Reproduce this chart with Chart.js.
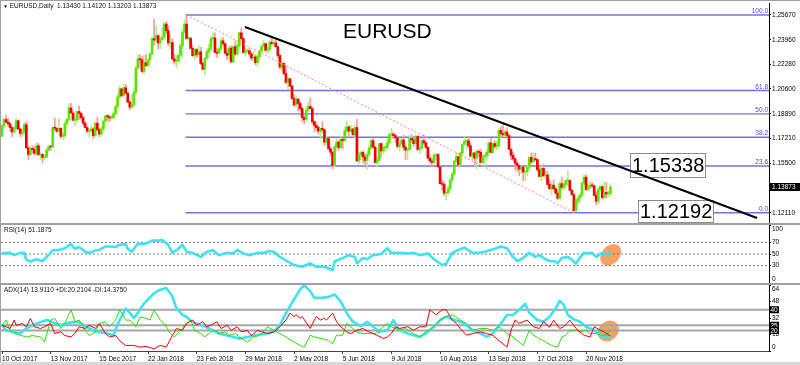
<!DOCTYPE html>
<html>
<head>
<meta charset="utf-8">
<script src="https://cdn.jsdelivr.net/npm/chart.js@4.4.1/dist/chart.umd.min.js"></script>
<style>
html,body{margin:0;padding:0;background:#fff;}
#wrap{position:relative;width:800px;height:365px;overflow:hidden;background:#fff;font-family:"Liberation Sans",Arial,sans-serif;color:#000;}
#wrap canvas{position:absolute;left:0;}
.t{position:absolute;white-space:nowrap;font-size:6.5px;line-height:1;color:#111;}
.big{position:absolute;white-space:nowrap;font-size:21px;line-height:1;color:#000;}
.hl{position:absolute;background:#a0a0a0;}
</style>
</head>
<body>
<div id="wrap">
<canvas id="cMain" width="800" height="223" style="top:0px"></canvas>
<canvas id="cRsi" width="800" height="58" style="top:225px"></canvas>
<canvas id="cAdx" width="800" height="80" style="top:285px"></canvas>
<div class="hl" style="left:0;top:0;width:800px;height:1px"></div>
<div class="hl" style="left:0;top:0;width:1px;height:362px"></div>
<div class="hl" style="left:0;top:223px;width:800px;height:2px"></div>
<div class="hl" style="left:0;top:283px;width:800px;height:2px"></div>
<div class="hl" style="left:0;top:362px;width:800px;height:3px;background:#d8d8d8"></div>
<div class="t" style="left:3px;top:3px"><span style="font-size:5px">▼</span>&nbsp;EURUSD,Daily&nbsp;&nbsp;1.13430 1.14120 1.13203 1.13873</div>
<div class="t" style="left:4px;top:227px">RSI(14) 51.1875</div>
<div class="t" style="left:4px;top:287px">ADX(14) 13.9110 +DI:20.2104 -DI:14.3750</div>
<div class="big" style="left:343px;top:20px">EURUSD</div>
</div>
<script>
// ---------- data ----------
const opens = [
1.1735,1.1807,1.1850,1.1832,1.1820,1.1795,1.1765,1.1788,1.1842,1.1785,
1.1755,1.1763,1.1815,1.1655,1.1610,1.1650,1.1645,1.1618,1.1670,1.1608,
1.1610,1.1590,1.1592,1.1640,1.1665,1.1662,1.1795,1.1790,1.1770,1.1790,
1.1735,1.1738,1.1820,1.1850,1.1930,1.1895,1.1845,1.1848,1.1905,1.1892,
1.1863,1.1825,1.1795,1.1770,1.1772,1.1785,1.1740,1.1825,1.1780,1.1750,
1.1785,1.1840,1.1875,1.1870,1.1860,1.1862,1.1890,1.1940,1.2005,1.2060,
1.2015,1.2068,1.2030,1.1970,1.1935,1.1950,1.2035,1.2200,1.2265,1.2260,
1.2180,1.2240,1.2220,1.2260,1.2300,1.2405,1.2395,1.2425,1.2375,1.2400,
1.2415,1.2505,1.2460,1.2375,1.2378,1.2265,1.2250,1.2252,1.2290,1.2355,
1.2450,1.2505,1.2405,1.2408,1.2338,1.2288,1.2330,1.2295,1.2315,1.2235,
1.2195,1.2270,1.2315,1.2335,1.2405,1.2410,1.2310,1.2305,1.2335,1.2390,
1.2370,1.2305,1.2290,1.2340,1.2245,1.2350,1.2300,1.2355,1.2445,1.2405,
1.2310,1.2320,1.2322,1.2300,1.2270,1.2280,1.2240,1.2280,1.2320,1.2355,
1.2370,1.2325,1.2330,1.2380,1.2370,1.2375,1.2350,1.2290,1.2210,1.2235,
1.2165,1.2105,1.2130,1.2080,1.1995,1.1950,1.1990,1.1960,1.1925,1.1865,
1.1850,1.1915,1.1940,1.1925,1.1835,1.1810,1.1795,1.1770,1.1790,1.1780,
1.1695,1.1720,1.1650,1.1625,1.1535,1.1665,1.1695,1.1658,1.1715,1.1705,
1.1775,1.1800,1.1770,1.1785,1.1745,1.1795,1.1565,1.1610,1.1625,1.1595,
1.1570,1.1610,1.1655,1.1705,1.1660,1.1555,1.1570,1.1685,1.1635,1.1655,
1.1658,1.1690,1.1745,1.1750,1.1740,1.1725,1.1665,1.1685,1.1710,1.1660,
1.1640,1.1645,1.1720,1.1710,1.1685,1.1735,1.1645,1.1655,1.1705,1.1690,
1.1660,1.1585,1.1565,1.1555,1.1605,1.1610,1.1525,1.1410,1.1405,1.1345,
1.1348,1.1375,1.1435,1.1475,1.1565,1.1595,1.1540,1.1620,1.1680,1.1700,
1.1705,1.1670,1.1600,1.1620,1.1585,1.1630,1.1625,1.1555,1.1595,1.1600,
1.1625,1.1690,1.1625,1.1685,1.1665,1.1670,1.1775,1.1755,1.1745,1.1765,
1.1740,1.1645,1.1605,1.1580,1.1550,1.1535,1.1510,1.1525,1.1490,1.1492,
1.1525,1.1590,1.1560,1.1580,1.1575,1.1505,1.1460,1.1515,1.1465,1.1470,
1.1405,1.1375,1.1400,1.1375,1.1345,1.1310,1.1410,1.1385,1.1405,1.1430,
1.1432,1.1365,1.1335,1.1225,1.1290,1.1310,1.1330,1.1415,1.1455,1.1370,
1.1385,1.1400,1.1395,1.1330,1.1290,1.1370,1.1390,1.1315,1.1350,1.1340,1.1343];
const highs = [
1.1815,1.1860,1.1880,1.1860,1.1832,1.1800,1.1805,1.1860,1.1845,1.1790,
1.1790,1.1830,1.1835,1.1665,1.1667,1.1670,1.1665,1.1688,1.1686,1.1615,
1.1615,1.1605,1.1655,1.1670,1.1672,1.1800,1.1860,1.1795,1.1860,1.1795,
1.1755,1.1840,1.1855,1.1960,1.1961,1.1910,1.1880,1.1905,1.1940,1.1900,
1.1875,1.1835,1.1800,1.1785,1.1805,1.1795,1.1830,1.1865,1.1790,1.1800,
1.1845,1.1880,1.1885,1.1875,1.1880,1.1898,1.1950,1.2025,1.2080,1.2065,
1.2090,1.2090,1.2035,1.1978,1.2020,1.2060,1.2218,1.2295,1.2296,1.2282,
1.2290,1.2295,1.2265,1.2310,1.2415,1.2537,1.2495,1.2435,1.2415,1.2480,
1.2520,1.2520,1.2495,1.2430,1.2405,1.2295,1.2290,1.2300,1.2375,1.2470,
1.2530,1.2565,1.2425,1.2410,1.2360,1.2340,1.2335,1.2355,1.2345,1.2245,
1.2275,1.2335,1.2365,1.2420,1.2445,1.2445,1.2335,1.2345,1.2410,1.2412,
1.2375,1.2335,1.2355,1.2355,1.2355,1.2390,1.2375,1.2450,1.2476,1.2415,
1.2340,1.2335,1.2340,1.2310,1.2320,1.2295,1.2295,1.2330,1.2355,1.2395,
1.2375,1.2345,1.2395,1.2414,1.2395,1.2395,1.2355,1.2295,1.2250,1.2240,
1.2210,1.2130,1.2135,1.2085,1.2020,1.2015,1.1995,1.1975,1.1935,1.1875,
1.1935,1.1970,1.1995,1.1935,1.1840,1.1830,1.1805,1.1790,1.1835,1.1785,
1.1735,1.1725,1.1665,1.1630,1.1670,1.1720,1.1705,1.1730,1.1720,1.1800,
1.1840,1.1805,1.1810,1.1790,1.1810,1.1852,1.1625,1.1635,1.1635,1.1610,
1.1630,1.1675,1.1715,1.1720,1.1665,1.1595,1.1690,1.1690,1.1665,1.1670,
1.1720,1.1755,1.1790,1.1765,1.1750,1.1730,1.1690,1.1720,1.1745,1.1670,
1.1650,1.1745,1.1745,1.1730,1.1745,1.1740,1.1665,1.1720,1.1745,1.1700,
1.1665,1.1605,1.1580,1.1620,1.1615,1.1615,1.1530,1.1435,1.1425,1.1355,
1.1395,1.1445,1.1490,1.1570,1.1625,1.1600,1.1625,1.1685,1.1735,1.1715,
1.1735,1.1690,1.1625,1.1625,1.1640,1.1645,1.1645,1.1610,1.1610,1.1640,
1.1690,1.1720,1.1690,1.1705,1.1700,1.1790,1.1800,1.1815,1.1780,1.1795,
1.1750,1.1650,1.1625,1.1590,1.1565,1.1540,1.1540,1.1530,1.1495,1.1540,
1.1595,1.1620,1.1620,1.1620,1.1580,1.1530,1.1530,1.1545,1.1495,1.1495,
1.1440,1.1415,1.1435,1.1380,1.1365,1.1425,1.1455,1.1420,1.1440,1.1500,
1.1435,1.1370,1.1340,1.1305,1.1330,1.1345,1.1415,1.1470,1.1472,1.1410,
1.1430,1.1420,1.1400,1.1355,1.1385,1.1400,1.1395,1.1420,1.1420,1.1360,1.1412];
const lows = [
1.1733,1.1795,1.1830,1.1805,1.1768,1.1730,1.1755,1.1780,1.1780,1.1730,
1.1735,1.1750,1.1650,1.1574,1.1600,1.1620,1.1605,1.1610,1.1602,1.1575,
1.1553,1.1575,1.1590,1.1632,1.1640,1.1660,1.1775,1.1760,1.1765,1.1720,
1.1712,1.1725,1.1815,1.1840,1.1893,1.1845,1.1810,1.1830,1.1850,1.1845,
1.1808,1.1790,1.1760,1.1730,1.1760,1.1718,1.1730,1.1775,1.1730,1.1745,
1.1775,1.1825,1.1840,1.1835,1.1845,1.1860,1.1880,1.1935,1.2000,1.2005,
1.2005,1.2025,1.1965,1.1916,1.1925,1.1945,1.2030,1.2195,1.2215,1.2170,
1.2165,1.2215,1.2215,1.2245,1.2290,1.2360,1.2385,1.2335,1.2335,1.2395,
1.2400,1.2435,1.2355,1.2335,1.2260,1.2230,1.2206,1.2245,1.2280,1.2275,
1.2445,1.2400,1.2385,1.2335,1.2282,1.2260,1.2275,1.2285,1.2225,1.2190,
1.2155,1.2260,1.2275,1.2325,1.2390,1.2310,1.2275,1.2300,1.2325,1.2355,
1.2300,1.2260,1.2260,1.2240,1.2240,1.2285,1.2295,1.2350,1.2395,1.2305,
1.2285,1.2305,1.2285,1.2255,1.2250,1.2225,1.2215,1.2270,1.2310,1.2345,
1.2315,1.2300,1.2320,1.2360,1.2355,1.2345,1.2270,1.2195,1.2185,1.2160,
1.2095,1.2055,1.2075,1.1990,1.1940,1.1945,1.1910,1.1910,1.1835,1.1820,
1.1845,1.1905,1.1925,1.1820,1.1765,1.1775,1.1750,1.1715,1.1760,1.1675,
1.1675,1.1645,1.1600,1.1510,1.1525,1.1640,1.1640,1.1650,1.1650,1.1700,
1.1760,1.1730,1.1765,1.1745,1.1725,1.1565,1.1545,1.1575,1.1555,1.1535,
1.1508,1.1595,1.1645,1.1655,1.1550,1.1530,1.1565,1.1590,1.1615,1.1630,
1.1640,1.1680,1.1725,1.1720,1.1690,1.1655,1.1635,1.1680,1.1640,1.1575,
1.1575,1.1640,1.1690,1.1665,1.1675,1.1635,1.1615,1.1650,1.1680,1.1650,
1.1580,1.1560,1.1530,1.1550,1.1575,1.1525,1.1410,1.1365,1.1330,1.1301,
1.1340,1.1360,1.1415,1.1470,1.1555,1.1530,1.1530,1.1600,1.1675,1.1650,
1.1655,1.1590,1.1575,1.1530,1.1510,1.1595,1.1555,1.1550,1.1530,1.1570,
1.1600,1.1620,1.1615,1.1655,1.1640,1.1665,1.1725,1.1730,1.1730,1.1730,
1.1645,1.1575,1.1570,1.1505,1.1495,1.1465,1.1480,1.1430,1.1430,1.1465,
1.1510,1.1545,1.1555,1.1565,1.1495,1.1455,1.1430,1.1455,1.1440,1.1395,
1.1370,1.1335,1.1370,1.1340,1.1300,1.1305,1.1370,1.1365,1.1385,1.1395,
1.1360,1.1330,1.1212,1.1220,1.1265,1.1280,1.1325,1.1400,1.1360,1.1365,
1.1370,1.1385,1.1325,1.1265,1.1270,1.1360,1.1305,1.1310,1.1315,1.1320,1.1320];
const closes = [
1.1807,1.1850,1.1832,1.1820,1.1795,1.1765,1.1788,1.1842,1.1785,1.1755,
1.1763,1.1815,1.1655,1.1610,1.1650,1.1645,1.1618,1.1670,1.1608,1.1610,
1.1590,1.1592,1.1640,1.1665,1.1662,1.1795,1.1790,1.1770,1.1790,1.1735,
1.1738,1.1820,1.1850,1.1930,1.1895,1.1845,1.1848,1.1905,1.1892,1.1863,
1.1825,1.1795,1.1770,1.1772,1.1785,1.1740,1.1825,1.1780,1.1750,1.1785,
1.1840,1.1875,1.1870,1.1860,1.1862,1.1890,1.1940,1.2005,1.2060,1.2015,
1.2068,1.2030,1.1970,1.1935,1.1950,1.2035,1.2200,1.2265,1.2260,1.2180,
1.2240,1.2220,1.2260,1.2300,1.2405,1.2395,1.2425,1.2375,1.2400,1.2415,
1.2505,1.2460,1.2375,1.2378,1.2265,1.2250,1.2252,1.2290,1.2355,1.2450,
1.2505,1.2405,1.2408,1.2338,1.2288,1.2330,1.2295,1.2315,1.2235,1.2195,
1.2270,1.2315,1.2335,1.2405,1.2410,1.2310,1.2305,1.2335,1.2390,1.2370,
1.2305,1.2290,1.2340,1.2245,1.2350,1.2300,1.2355,1.2445,1.2405,1.2310,
1.2320,1.2322,1.2300,1.2270,1.2280,1.2240,1.2280,1.2320,1.2355,1.2370,
1.2325,1.2330,1.2380,1.2370,1.2375,1.2350,1.2290,1.2210,1.2235,1.2165,
1.2105,1.2130,1.2080,1.1995,1.1950,1.1990,1.1960,1.1925,1.1865,1.1850,
1.1915,1.1940,1.1925,1.1835,1.1810,1.1795,1.1770,1.1790,1.1780,1.1695,
1.1720,1.1650,1.1625,1.1535,1.1665,1.1695,1.1658,1.1715,1.1705,1.1775,
1.1800,1.1770,1.1785,1.1745,1.1795,1.1565,1.1610,1.1625,1.1595,1.1570,
1.1610,1.1655,1.1705,1.1660,1.1555,1.1570,1.1685,1.1635,1.1655,1.1658,
1.1690,1.1745,1.1750,1.1740,1.1725,1.1665,1.1685,1.1710,1.1660,1.1640,
1.1645,1.1720,1.1710,1.1685,1.1735,1.1645,1.1655,1.1705,1.1690,1.1660,
1.1585,1.1565,1.1555,1.1605,1.1610,1.1525,1.1410,1.1405,1.1345,1.1348,
1.1375,1.1435,1.1475,1.1565,1.1595,1.1540,1.1620,1.1680,1.1700,1.1705,
1.1670,1.1600,1.1620,1.1585,1.1630,1.1625,1.1555,1.1595,1.1600,1.1625,
1.1690,1.1625,1.1685,1.1665,1.1670,1.1775,1.1755,1.1745,1.1765,1.1740,
1.1645,1.1605,1.1580,1.1550,1.1535,1.1510,1.1525,1.1490,1.1492,1.1525,
1.1590,1.1560,1.1580,1.1575,1.1505,1.1460,1.1515,1.1465,1.1470,1.1405,
1.1375,1.1400,1.1375,1.1345,1.1310,1.1410,1.1385,1.1405,1.1430,1.1432,
1.1365,1.1335,1.1225,1.1290,1.1310,1.1330,1.1415,1.1455,1.1370,1.1385,
1.1400,1.1395,1.1330,1.1290,1.1370,1.1390,1.1315,1.1350,1.1340,1.1345,1.13873];

const priceTicks = [1.25670,1.23960,1.22280,1.20600,1.18890,1.17210,1.15500,1.12110];
const xTickBars = [0,24,48,72,96,120,144,168,192,216,240,264,288];
const xLabels = ['10 Oct 2017','13 Nov 2017','15 Dec 2017','22 Jan 2018','23 Feb 2018','29 Mar 2018',
  '2 May 2018','5 Jun 2018','9 Jul 2018','10 Aug 2018','13 Sep 2018','17 Oct 2018','20 Nov 2018'];

const fibHigh = 1.2567, fibLow = 1.1211;
const fibLevels = [0, 23.6, 38.2, 50, 61.8, 100];
const fibStartBar = 90.5;
const trendBars = [119.8, 372.3];
const trendPrices = [1.2485, 1.1175];
const channelBars = [91, 282];
const channelPrices = [fibHigh, fibLow];
const noteTexts = ['1.15338', '1.12192'];
const noteBars = [309.7, 313.6];
const notePrices = [1.15338, 1.12192];

const rsiBars = [0,4,6,9,11,12,14,17,20,24,25,28,31,34,36,38,41,43,46,48,51,53,56,58,61,62,64,67,69,71,74,77,79,82,84,87,89,91,94,98,101,104,107,111,114,116,119,122,126,129,132,134,137,141,144,148,152,155,159,163,164,168,171,174,175,178,180,183,187,190,192,195,200,203,206,210,213,217,219,222,225,228,232,235,238,241,243,246,249,252,254,257,260,263,265,268,270,273,274,276,279,281,283,285,287,288,291,293,296,298,300];
const rsiValues = [51,52,48,52,52,40,37,41,38,52,57,57,60,67,59,62,54,52,56,57,63,63,62,66,67,59,54,68,67,68,73,73,74,66,52,59,66,54,52,45,54,57,48,52,51,57,51,48,52,52,55,54,45,37,31,28,34,28,28,22,37,43,48,45,34,43,41,48,50,60,52,52,51,52,48,51,41,31,33,52,57,61,52,52,54,57,59,63,60,45,38,43,52,45,48,41,38,37,34,43,45,40,33,44,52,51,52,45,52,48,51.2];
const rsiLevels = [70, 50, 30];
const rsiTicks = [100, 70, 50, 30, 0];

const adxBars = [0,2,6,9,12,15,19,22,25,29,32,35,38,42,45,48,52,55,57,61,63,65,67,70,75,78,81,84,86,89,91,94,98,101,104,107,111,114,117,121,124,127,131,134,137,140,144,147,149,152,154,158,161,164,167,170,173,177,180,183,186,190,193,196,200,203,206,209,213,216,219,223,226,229,232,236,239,242,246,249,252,255,258,260,264,267,270,273,275,277,279,282,285,288,292,295,297,300];
const adxValues = [25,20,18.5,17,22,25,28,30,28,25,27,28,28,23,20,18.5,17,15,26,41,37,32,37,46,56,59.5,61,53,41.5,35,33,28,25,23,20,17,15,13.5,12,13.5,15,16,17,18.6,25,36.7,50,59.8,63.7,58,51.5,51.5,52.5,54.8,48.2,36.7,28.4,24.1,28.4,23.5,18.6,20.2,30,20.2,17,15.2,13.6,17,23.5,30,33.3,30,28.4,25,20.2,17,13.6,17,26.7,34.9,34.9,39.9,45.8,37,30,28.4,33.3,41.5,48.7,44.8,35,30.7,28.4,23.5,20.2,15.2,13.6,13.9];
const plusDiBars = [0,2,4,6,12,15,19,21,24,26,29,31,34,36,38,41,43,46,48,51,53,56,58,61,63,66,68,71,73,75,78,80,83,85,88,90,93,95,98,100,103,105,107,110,112,115,117,121,124,127,131,134,137,140,144,147,149,152,154,158,161,163,165,168,170,172,175,178,181,184,186,190,192,196,199,203,206,209,213,216,219,222,226,229,232,236,239,242,245,249,252,257,260,262,265,268,271,274,276,278,280,283,285,288,290,293,295,298,300];
const plusDiValues = [25,30,20,17,13.6,15,13.6,8.7,30,31.6,21.8,26.7,40,28.4,30,20,15,18.6,26.7,28.4,23.5,30,40,30,30,23.5,33,31.6,30,40,30,26.7,17,13.6,20,25,30,20,17,13.6,18.6,20,17,18.6,15,17,13.6,8.7,13.6,15,23.5,20,16.9,13.6,8.7,5.4,3.7,15.3,13.6,12,10.3,7,15.3,15.3,26.8,23.5,18.5,16.9,16.9,16.9,20.2,26.8,23.5,20.2,21.8,16.9,13.6,18.5,23.5,30,33.4,35.1,30,26.8,20.2,21.8,21.8,20.2,23.5,16.9,13.6,5.4,20.2,15.3,12,8.7,5.4,3.7,13.6,15.3,20.2,20.2,18.5,20.2,16.9,16.9,15.3,15.3,20.2];
const minusDiBars = [0,2,4,6,7,10,12,14,16,19,21,24,26,29,31,34,36,38,41,43,46,48,51,53,56,58,61,65,68,71,75,78,81,84,86,89,91,94,96,99,101,103,106,108,111,113,116,118,121,123,126,128,131,134,137,140,142,144,145,147,148,152,154,155,157,159,160,163,165,167,170,172,175,178,181,185,188,190,192,194,196,200,203,206,209,211,214,217,219,222,224,226,229,232,236,239,242,245,249,251,253,255,259,262,265,267,270,272,275,277,280,283,285,287,290,292,295,297,300];
const minusDiValues = [25,23.5,21.8,30,25,26.7,23.5,31.6,23.5,21.8,23.5,26.7,17,18.6,15,13.6,17,23.5,21.8,25,21.8,26.7,17,13.6,15,10,5.4,5.4,3.8,4.4,2.2,5.4,3.8,15,21.8,20,26.7,30,25,28.4,23.5,25,28.4,21.8,25,20,23.5,18.6,20,15,20,18.6,17,18.5,23.5,30,36.7,33.4,35.1,31.8,33.4,21.8,30,33.4,30,31.8,30,36.7,28.4,23.5,18.5,16.9,20.2,21.8,18.5,15.3,12,13.6,16.9,23.5,21.8,23.5,20.2,23.5,23.5,40,35.1,40,40,30,26.8,21.8,15.3,16.9,18.5,16.9,15.3,10.3,3.7,20.2,30,26.8,30,23.5,21.8,28.4,23,30,21.8,23.5,30,22,18.5,15.3,13.6,23.5,20.2,18.5,14.4];
const adxLevels = [40, 25, 20];
const adxTicks = [64, 48, 32, 16, 0];

// ---------- layout / style ----------
const X_MIN = -0.5, X_MAX = 378.2;
const PRICE_MIN = 1.11473, PRICE_MAX = 1.26493;
const FONT = '"Liberation Sans", Arial, sans-serif';
const AXIS_W = 31;
const CYAN = '#3ee2f4';

function pts(xs, ys){ return xs.map((x,i)=>({x:x, y:ys[i]})); }
function rightAxis(extra){
  return Object.assign({
    position:'right',
    afterFit:(s)=>{ s.width = AXIS_W; s.paddingTop = 0; s.paddingBottom = 0; },
    grid:{drawOnChartArea:false, drawTicks:true, tickLength:2, color:'#000'},
    border:{display:true, color:'#000', width:1}
  }, extra);
}
function hiddenX(){ return {type:'linear', min:X_MIN, max:X_MAX, offset:false, display:false}; }

function drawSideLabels(chart, ticks){
  const ctx = chart.ctx, a = chart.chartArea, ys = chart.scales.y;
  ctx.save();
  ctx.font = '6.5px ' + FONT; ctx.fillStyle = '#000';
  ctx.textAlign = 'left'; ctx.textBaseline = 'middle';
  ticks.forEach(v=>{
    let y = ys.getPixelForValue(v);
    y = Math.min(Math.max(y, a.top + 4), a.bottom - 4);
    ctx.fillText(String(v), a.right + 3, y);
  });
  ctx.restore();
}
function drawBlob(chart, bar, val, rx, ry, rot){
  const ctx = chart.ctx;
  const x = chart.scales.x.getPixelForValue(bar), y = chart.scales.y.getPixelForValue(val);
  ctx.save();
  ctx.fillStyle = 'rgba(241,152,82,0.9)';
  ctx.beginPath(); ctx.ellipse(x, y, rx, ry, rot, 0, Math.PI*2); ctx.fill();
  ctx.restore();
}

// ---------- main price chart ----------
const bull = closes.map((c,i)=> c >= opens[i]);
const fibPrices = fibLevels.map(l => fibLow + (fibHigh - fibLow) * l / 100);

const mainDecor = {
  id:'mainDecor',
  beforeDatasetDraw(chart, args){
    if (args.index !== 0) return;           // text boxes sit under the black trend line
    const ctx = chart.ctx, xs = chart.scales.x, ys = chart.scales.y;
    ctx.save();
    ctx.font = '20px ' + FONT; ctx.textAlign = 'left'; ctx.textBaseline = 'middle';
    noteTexts.forEach((t,i)=>{
      const x = Math.round(xs.getPixelForValue(noteBars[i])), y = ys.getPixelForValue(notePrices[i]);
      const w = Math.ceil(ctx.measureText(t).width) + 3, h = i === 0 ? 25 : 23;
      const top = Math.round(y - h/2);
      ctx.fillStyle = '#fff'; ctx.fillRect(x, top, w, h);
      ctx.strokeStyle = '#8c8c8c'; ctx.lineWidth = 1; ctx.strokeRect(x + 0.5, top + 0.5, w - 1, h - 1);
      ctx.fillStyle = '#000'; ctx.fillText(t, x + 2, top + h/2 + 1);
    });
    ctx.restore();
  },
  afterDraw(chart){
    const ctx = chart.ctx, a = chart.chartArea, ys = chart.scales.y;
    ctx.save();
    ctx.font = '6.5px ' + FONT; ctx.fillStyle = '#4b4bd6';
    ctx.textAlign = 'right'; ctx.textBaseline = 'bottom';
    fibLevels.forEach((l,i)=>{ ctx.fillText(l.toFixed(1), a.right - 1, ys.getPixelForValue(fibPrices[i]) - 0.5); });
    const last = closes[closes.length-1];
    const y = ys.getPixelForValue(last);
    ctx.fillStyle = '#000'; ctx.fillRect(a.right, y - 4, AXIS_W, 8);
    ctx.fillStyle = '#fff'; ctx.textAlign = 'left'; ctx.textBaseline = 'middle';
    ctx.fillText(last.toFixed(5), a.right + 3, y + 0.5);
    ctx.restore();
  }
};

const mainSets = [
  {type:'line', data:pts(trendBars, trendPrices), borderColor:'#000', borderWidth:2, pointRadius:0, order:0, clip:false},
  {type:'line', data:pts(channelBars, channelPrices), borderColor:'#ff8080', borderWidth:1, borderDash:[2,2], pointRadius:0, order:1}
];
fibPrices.forEach(p=>{
  mainSets.push({type:'line', data:[{x:fibStartBar,y:p},{x:X_MAX,y:p}], borderColor:'#7272e2', borderWidth:1.4, pointRadius:0, order:6});
});
mainSets.push({type:'bar', data:closes.map((c,i)=>({x:i, y:[lows[i], highs[i]]})),
  backgroundColor:bull.map(b=> b ? '#b4ee8a' : '#ff9a9a'), barThickness:1, grouped:false, borderWidth:0, order:4});
mainSets.push({type:'bar', data:closes.map((c,i)=>({x:i, y:[opens[i], c]})),
  backgroundColor:bull.map(b=> b ? '#5ee400' : '#f20000'), barThickness:2, grouped:false, borderWidth:0, minBarLength:1, order:3});

new Chart(document.getElementById('cMain'), {
  type:'bar',
  data:{datasets:mainSets},
  options:{
    responsive:false, animation:false, devicePixelRatio:1,
    layout:{padding:{left:1, top:3, right:0, bottom:1}},
    plugins:{legend:{display:false}, tooltip:{enabled:false}},
    scales:{
      x: hiddenX(),
      y: rightAxis({min:PRICE_MIN, max:PRICE_MAX,
        afterBuildTicks:(s)=>{ s.ticks = priceTicks.map(v=>({value:v})); },
        ticks:{font:{size:6.5, family:FONT}, color:'#000', padding:1, callback:(v)=>Number(v).toFixed(5)}})
    }
  },
  plugins:[mainDecor]
});

// ---------- RSI ----------
const rsiDecor = {
  id:'rsiDecor',
  beforeDatasetsDraw(chart){ drawBlob(chart, 300.1, 48.5, 12, 9, -0.85); },
  afterDraw(chart){ drawSideLabels(chart, rsiTicks); }
};
const rsiSets = [{data:pts(rsiBars, rsiValues), borderColor:CYAN, borderWidth:2.6, pointRadius:0, tension:0, borderJoinStyle:'round', order:0}];
rsiLevels.forEach(l=> rsiSets.push({data:[{x:X_MIN,y:l},{x:X_MAX,y:l}], borderColor:'#7a7a7a', borderWidth:1, borderDash:[2,2], pointRadius:0, order:5}));
new Chart(document.getElementById('cRsi'), {
  type:'line',
  data:{datasets:rsiSets},
  options:{
    responsive:false, animation:false, devicePixelRatio:1,
    layout:{padding:{left:1, top:0, right:0, bottom:0}},
    plugins:{legend:{display:false}, tooltip:{enabled:false}},
    scales:{
      x: hiddenX(),
      y: rightAxis({min:0, max:100,
        afterBuildTicks:(s)=>{ s.ticks = rsiTicks.map(v=>({value:v})); },
        ticks:{display:false}})
    }
  },
  plugins:[rsiDecor]
});

// ---------- ADX ----------
const adxDecor = {
  id:'adxDecor',
  beforeDatasetsDraw(chart){ drawBlob(chart, 299, 19.4, 11.5, 9.5, -0.75); },
  afterDraw(chart){
    drawSideLabels(chart, adxTicks);
    const ctx = chart.ctx, a = chart.chartArea, ys = chart.scales.y;
    ctx.save();
    ctx.font = '6.5px ' + FONT; ctx.textAlign = 'left'; ctx.textBaseline = 'middle';
    adxLevels.forEach(l=>{
      const y = ys.getPixelForValue(l);
      ctx.fillStyle = '#000'; ctx.fillRect(a.right, y - 3.5, 10, 7);
      ctx.fillStyle = '#fff'; ctx.fillText(String(l), a.right + 1.5, y + 0.5);
    });
    ctx.restore();
  }
};
const adxSets = [];
adxLevels.forEach(l=> adxSets.push({data:[{x:X_MIN,y:l},{x:X_MAX,y:l}], borderColor:'#a6a6a6', borderWidth:2, pointRadius:0, order:9}));
adxSets.push({data:pts(adxBars, adxValues), borderColor:CYAN, borderWidth:2.6, pointRadius:0, tension:0, borderJoinStyle:'round', order:3});
adxSets.push({data:pts(plusDiBars, plusDiValues), borderColor:'#2be000', borderWidth:1, pointRadius:0, tension:0, order:2});
adxSets.push({data:pts(minusDiBars, minusDiValues), borderColor:'#ee0000', borderWidth:1, pointRadius:0, tension:0, order:1});

new Chart(document.getElementById('cAdx'), {
  type:'line',
  data:{datasets:adxSets},
  options:{
    responsive:false, animation:false, devicePixelRatio:1,
    layout:{padding:{left:1, top:0, right:0, bottom:0}},
    plugins:{legend:{display:false}, tooltip:{enabled:false}},
    scales:{
      x:{type:'linear', min:X_MIN, max:X_MAX, offset:false, position:'bottom',
        afterBuildTicks:(s)=>{ s.ticks = xTickBars.map(v=>({value:v})); },
        afterFit:(s)=>{ s.height = 14; s.paddingLeft = 0; s.paddingRight = 0; },
        ticks:{autoSkip:false, maxRotation:0, minRotation:0, align:'start', padding:1,
          font:{size:6.5, family:FONT}, color:'#000', callback:(v,i)=> xLabels[i]},
        grid:{drawOnChartArea:false, drawTicks:true, tickLength:3, color:'#444'},
        border:{display:true, color:'#444', width:1}},
      y: rightAxis({min:0, max:64,
        afterBuildTicks:(s)=>{ s.ticks = adxTicks.map(v=>({value:v})); },
        ticks:{display:false}})
    }
  },
  plugins:[adxDecor]
});
</script>
</body>
</html>
